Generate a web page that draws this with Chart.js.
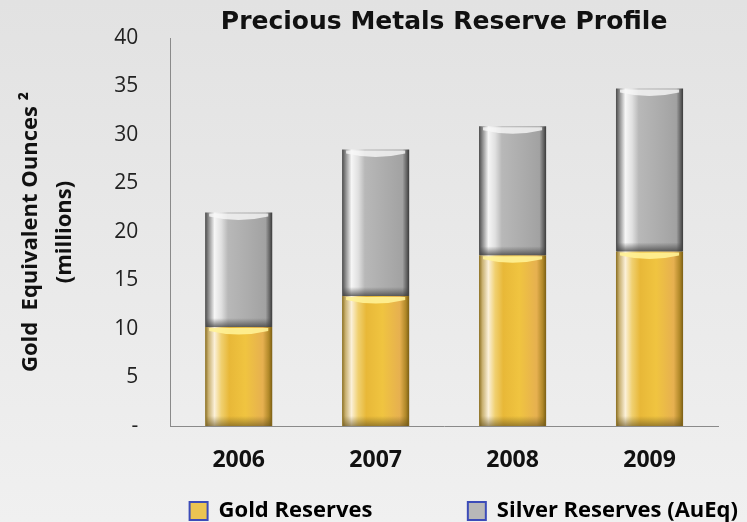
<!DOCTYPE html>
<html>
<head>
<meta charset="utf-8">
<script src="https://cdn.jsdelivr.net/npm/chart.js@4"></script>
<style>
  html, body { margin: 0; padding: 0; }
  body { width: 747px; height: 522px; background: linear-gradient(#e2e2e2, #f0f0f0); }
  #wrap { width: 747px; height: 522px; }
</style>
</head>
<body>
<div id="wrap"><canvas id="reserveChart" width="747" height="522"></canvas></div>
<script>
// 数据
const years = ['2006', '2007', '2008', '2009'];
const goldReserves = [10.2, 13.4, 17.6, 18.0];
const silverReserves = [11.8, 15.1, 13.3, 16.8];
const yTicks = [0, 5, 10, 15, 20, 25, 30, 35, 40];
const seriesNames = ['Gold Reserves', 'Silver Reserves (AuEq)'];

// 圆柱渐变色
const silverStops = [[0, '#4a4a4a'], [0.05, '#8a8a8a'], [0.14, '#f6f6f6'], [0.24, '#e0e0e0'], [0.34, '#b8b8b8'], [0.7, '#aaaaaa'], [0.9, '#a2a2a2'], [0.96, '#666666'], [1, '#3a3a3a']];
const goldStops = [[0, '#8a6e20'], [0.05, '#c8b070'], [0.14, '#fbf0d8'], [0.24, '#f0d070'], [0.36, '#e8b838'], [0.6, '#f0c440'], [0.86, '#e6b050'], [0.95, '#b08828'], [1, '#7a5e14']];

const cylinderPlugin = {
    id: 'cylinder',
    beforeDatasetsDraw(chart) {
        const ctx = chart.ctx;
        chart.data.datasets.forEach((ds, i) => {
            const stops = i === 0 ? goldStops : silverStops;
            chart.getDatasetMeta(i).data.forEach(bar => {
                const g = ctx.createLinearGradient(bar.x - bar.width / 2, 0, bar.x + bar.width / 2, 0);
                stops.forEach(s => g.addColorStop(s[0], s[1]));
                // 每个柱子单独的options，避免共享
                bar.options = Object.assign({}, bar.options, { backgroundColor: g });
            });
        });
    },
    afterDatasetsDraw(chart) {
        const ctx = chart.ctx;
        ctx.save();
        chart.data.datasets.forEach((ds, i) => {
            chart.getDatasetMeta(i).data.forEach(bar => {
                const left = bar.x - bar.width / 2;
                const w = bar.width;
                // 顶部高光(弧形)
                ctx.beginPath();
                ctx.moveTo(left + 4, bar.y + 1);
                ctx.lineTo(left + w - 4, bar.y + 1);
                ctx.lineTo(left + w - 4, bar.y + 4);
                ctx.quadraticCurveTo(bar.x, bar.y + 11, left + 4, bar.y + 4);
                ctx.closePath();
                ctx.fillStyle = i === 0 ? 'rgba(255,242,150,0.9)' : 'rgba(248,248,248,0.8)';
                ctx.fill();
                // 底部暗带
                if (i === 1) {
                    const d = ctx.createLinearGradient(0, bar.base - 9, 0, bar.base);
                    d.addColorStop(0, 'rgba(70,70,70,0)');
                    d.addColorStop(1, 'rgba(60,60,60,0.75)');
                    ctx.fillStyle = d;
                    ctx.fillRect(left + 1, bar.base - 9, w - 2, 9);
                } else {
                    const d = ctx.createLinearGradient(0, bar.base - 10, 0, bar.base);
                    d.addColorStop(0, 'rgba(110,90,30,0)');
                    d.addColorStop(1, 'rgba(100,80,30,0.6)');
                    ctx.fillStyle = d;
                    ctx.fillRect(left + 1, bar.base - 10, w - 2, 10);
                }
            });
        });
        ctx.restore();
    }
};

const textFont = '"Open Sans", "Liberation Sans", sans-serif';

new Chart(document.getElementById('reserveChart').getContext('2d'), {
    type: 'bar',
    data: {
        labels: years,
        datasets: [
            {
                label: seriesNames[0],
                data: goldReserves,
                backgroundColor: '#e8bc3c',
                borderWidth: 0,
                barPercentage: 1,
                categoryPercentage: 0.49
            },
            {
                label: seriesNames[1],
                data: silverReserves,
                backgroundColor: '#b0b0b0',
                borderWidth: 0,
                barPercentage: 1,
                categoryPercentage: 0.49
            }
        ]
    },
    options: {
        responsive: false,
        animation: false,
        layout: { padding: { left: 14, right: 5, top: 0, bottom: -10 } },
        plugins: {
            title: {
                display: true,
                text: 'Precious Metals Reserve Profile',
                fullSize: false,
                color: '#111',
                font: { family: '"DejaVu Sans", Verdana, sans-serif', size: 25, weight: 'bold', lineHeight: 1.2 },
                padding: { top: 2, bottom: 1 }
            },
            legend: {
                position: 'bottom',
                align: 'end',
                labels: {
                    color: '#111',
                    font: { family: textFont, size: 22, weight: 'bold' },
                    boxWidth: 18,
                    boxHeight: 18,
                    padding: 4,
                    generateLabels(chart) {
                        // 第一项后面补空格拉开间距
                        return chart.data.datasets.map((ds, i) => ({
                            text: i === 0 ? ds.label + ' '.repeat(16) : ds.label,
                            fillStyle: i === 0 ? '#eac452' : '#b8b8b8',
                            strokeStyle: '#3c4cb8',
                            lineWidth: 2,
                            datasetIndex: i
                        }));
                    }
                }
            },
            tooltip: { enabled: false }
        },
        scales: {
            x: {
                stacked: true,
                grid: { display: false, drawTicks: false },
                border: { display: true, color: '#8a8a8a', width: 1 },
                ticks: { color: '#111', padding: 21, font: { family: textFont, size: 23, weight: 'bold' } },
                afterFit(scale) { scale.height = 70; }
            },
            y: {
                stacked: true,
                min: 0,
                max: 40,
                afterBuildTicks(axis) {
                    axis.ticks = yTicks.map(v => ({ value: v }));
                },
                // 顶部留白固定，绘图区从y=38开始
                afterFit(scale) { scale.paddingTop = 38; },
                grid: { display: false, drawTicks: false },
                border: { display: true, color: '#8a8a8a', width: 1 },
                ticks: {
                    color: '#222',
                    padding: 32,
                    font: { family: textFont, size: 21 },
                    callback: v => v === 0 ? '-' : v
                },
                title: {
                    display: true,
                    text: ['Gold  Equivalent Ounces \u00b2', '(millions)'],
                    color: '#111',
                    font: { family: textFont, size: 22, weight: 'bold', lineHeight: 1.55 },
                    padding: { top: 0, bottom: 0 }
                }
            },
            // 右侧占位轴，让绘图区右边留出空白
            yRight: {
                position: 'right',
                display: true,
                grid: { display: false, drawTicks: false },
                border: { display: false },
                ticks: { display: false },
                afterFit(scale) { scale.width = 24; }
            }
        }
    },
    plugins: [cylinderPlugin]
});
</script>
</body>
</html>
